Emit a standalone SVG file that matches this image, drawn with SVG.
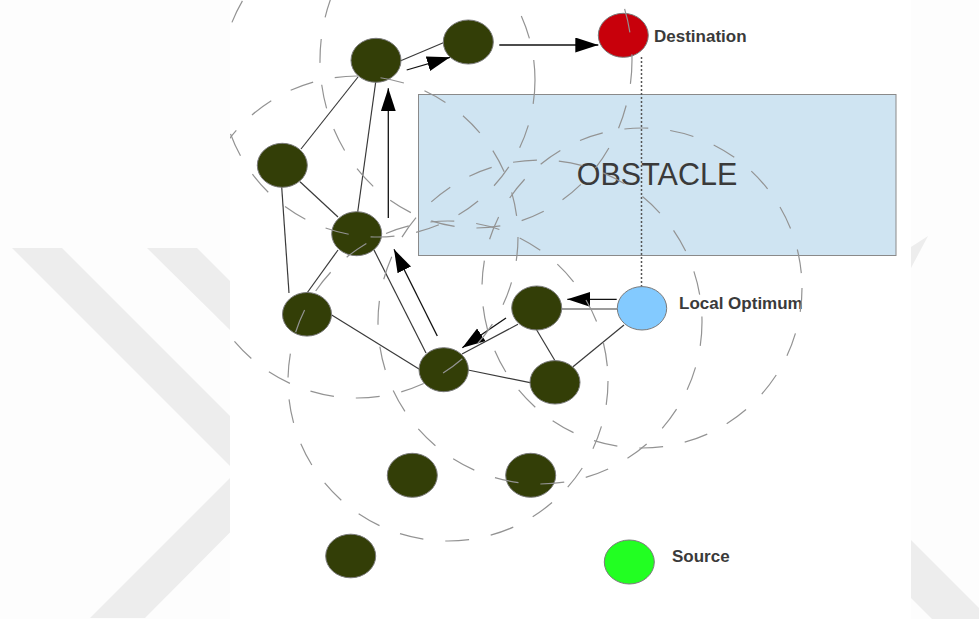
<svg xmlns="http://www.w3.org/2000/svg" width="979" height="619" viewBox="0 0 979 619">
  <style>
    .mark { fill: #ededed; }
    .node { stroke: #7a7a7a; stroke-width: 1; }
    .relay { fill: #333e07; }
    .edge { stroke: #3a3a3a; stroke-width: 1.2; fill: none; }
    .hop { stroke: #111; stroke-width: 1.3; fill: none; marker-end: url(#head); }
    .range { fill: none; stroke: #939393; stroke-width: 1.2; stroke-dasharray: 24 22; }
    .label { font-family: "Liberation Sans", Arial, sans-serif; font-weight: bold; font-size: 17px; fill: #3a3a3a; }
  </style>
  <defs>
    <marker id="head" markerUnits="userSpaceOnUse" markerWidth="24" markerHeight="16" refX="23" refY="7.5" orient="auto">
      <path d="M0,0 L23,7.5 L0,15 z" fill="#000"/>
    </marker>
    <clipPath id="sheet">
      <rect x="230" y="0" width="681" height="619"/>
    </clipPath>
  </defs>

  <!-- page background with faint chevron marks -->
  <rect x="0" y="0" width="979" height="619" fill="#fdfdfd"/>
  <g id="watermark">
    <polygon class="mark" points="12,248 62,248 288,474 145,618 90,618 236,472"/>
    <polygon class="mark" points="147,248 197,248 260,311 230,330"/>
    <polygon class="mark" points="911,540 990,619 932,619 911,598"/>
    <polygon class="mark" points="911,247 928,236 911,268"/>
  </g>

  <!-- drawing sheet -->
  <rect x="230" y="0" width="681" height="619" fill="#ffffff"/>

  <g id="obstacle">
    <rect x="418.5" y="94.5" width="477.5" height="161" fill="#cfe4f2" stroke="#8a8a8a" stroke-width="1"/>
    <text x="657" y="185" text-anchor="middle" font-family="'Liberation Sans', Arial, sans-serif" font-size="30.5" fill="#3a3a3a">OBSTACLE</text>
  </g>

  <g id="links">
    <line class="edge" x1="400.7" y1="60.7" x2="443.3" y2="42.7"/>
    <line class="edge" x1="358" y1="77" x2="301" y2="149"/>
    <line class="edge" x1="375.7" y1="82" x2="357.7" y2="212"/>
    <line class="edge" x1="281.7" y1="187" x2="289" y2="293"/>
    <line class="edge" x1="300" y1="181.7" x2="338" y2="217"/>
    <line class="edge" x1="338" y1="250" x2="307" y2="293"/>
    <line class="edge" x1="374" y1="250" x2="426" y2="353"/>
    <line class="edge" x1="331.7" y1="315" x2="419" y2="369"/>
    <line class="edge" x1="468" y1="370" x2="530" y2="382.7"/>
    <line class="edge" x1="536.7" y1="330" x2="555" y2="360.7"/>
    <line class="edge" x1="573" y1="366.7" x2="624" y2="325"/>
    <line class="edge" x1="561.7" y1="309" x2="617.3" y2="309"/>
    <line class="edge" x1="518" y1="324.3" x2="462" y2="354"/>
    <!-- routed path towards the destination -->
    <path class="hop" d="M616.7,299.3 L567.3,299.3"/>
    <path class="hop" d="M506,318 L462.3,347.7"/>
    <path class="hop" d="M437.3,336 L394,249.3"/>
    <path class="hop" d="M388.3,218 L388.3,88.3"/>
    <path class="hop" d="M406.7,70 L450,57.3"/>
    <path class="hop" d="M499.3,45 L598.3,45"/>
    <!-- straight-line gap between local optimum and destination -->
    <line x1="641.5" y1="57" x2="641.5" y2="287" stroke="#555" stroke-width="1.5" stroke-dasharray="2 2"/>
  </g>

  <g id="n1"><ellipse class="node relay" cx="376" cy="60.3" rx="25" ry="22"/></g>
  <g id="n2"><ellipse class="node relay" cx="468.3" cy="42" rx="25" ry="22"/></g>
  <g id="n3"><ellipse class="node relay" cx="282.3" cy="165.3" rx="25" ry="22"/></g>
  <g id="n4"><ellipse class="node relay" cx="356.7" cy="233.7" rx="25" ry="22"/></g>
  <g id="n5"><ellipse class="node relay" cx="307" cy="314.3" rx="24.5" ry="21.8"/></g>
  <g id="n6"><ellipse class="node relay" cx="536.7" cy="308" rx="25" ry="22"/></g>
  <g id="n7"><ellipse class="node relay" cx="443.7" cy="369.7" rx="24.7" ry="22"/></g>
  <g id="n8"><ellipse class="node relay" cx="555" cy="382.3" rx="25" ry="21.7"/></g>
  <g id="n9"><ellipse class="node relay" cx="412.3" cy="475.3" rx="25" ry="22"/></g>
  <g id="n10"><ellipse class="node relay" cx="530.7" cy="475.3" rx="25" ry="22"/></g>
  <g id="n11"><ellipse class="node relay" cx="350.7" cy="556" rx="25" ry="21.8"/></g>
  <g id="destination">
    <ellipse class="node" cx="623.3" cy="35.3" rx="25" ry="22" fill="#c8000b"/>
    <text class="label" x="654" y="42">Destination</text>
  </g>
  <g id="local-optimum">
    <ellipse class="node" cx="642" cy="308.3" rx="24.7" ry="21.7" fill="#83caff"/>
    <text class="label" x="679" y="309">Local Optimum</text>
  </g>
  <g id="source">
    <ellipse class="node" cx="629.3" cy="562" rx="25" ry="22" fill="#22ff22"/>
    <text class="label" x="672" y="562">Source</text>
  </g>

  <!-- radio ranges of the relaying nodes -->
  <g id="ranges" clip-path="url(#sheet)">
    <circle class="range" cx="378" cy="80" r="157"/>
    <ellipse class="range" cx="476" cy="60" rx="156" ry="168"/>
    <circle class="range" cx="357" cy="237" r="161"/>
    <circle class="range" cx="448" cy="381" r="160"/>
    <circle class="range" cx="540" cy="322" r="162"/>
    <circle class="range" cx="642" cy="288" r="160"/>
  </g>
</svg>
